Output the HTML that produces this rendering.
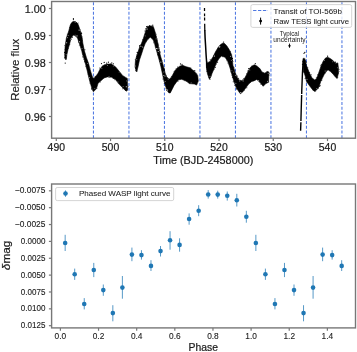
<!DOCTYPE html>
<html><head><meta charset="utf-8"><style>
html,body{margin:0;padding:0;background:#fff;}
body{width:357px;height:352px;overflow:hidden;font-family:"Liberation Sans", sans-serif;}
svg{display:block;}
#w{will-change:transform;}
text{-webkit-font-smoothing:antialiased;}
</style></head><body>
<div id="w"><svg width="357" height="352" viewBox="0 0 357 352" font-family='"Liberation Sans", sans-serif'>
<rect width="357" height="352" fill="#fff"/>
<line x1="93.45" y1="1.5" x2="93.45" y2="138.2" stroke="#4f78e2" stroke-width="1.05" stroke-dasharray="3.0 1.75" stroke-dashoffset="4.0"/>
<line x1="128.95" y1="1.5" x2="128.95" y2="138.2" stroke="#4f78e2" stroke-width="1.05" stroke-dasharray="3.0 1.75" stroke-dashoffset="4.0"/>
<line x1="164.45" y1="1.5" x2="164.45" y2="138.2" stroke="#4f78e2" stroke-width="1.05" stroke-dasharray="3.0 1.75" stroke-dashoffset="4.0"/>
<line x1="199.95" y1="1.5" x2="199.95" y2="138.2" stroke="#4f78e2" stroke-width="1.05" stroke-dasharray="3.0 1.75" stroke-dashoffset="4.0"/>
<line x1="235.45" y1="1.5" x2="235.45" y2="138.2" stroke="#4f78e2" stroke-width="1.05" stroke-dasharray="3.0 1.75" stroke-dashoffset="4.0"/>
<line x1="270.95" y1="1.5" x2="270.95" y2="138.2" stroke="#4f78e2" stroke-width="1.05" stroke-dasharray="3.0 1.75" stroke-dashoffset="4.0"/>
<line x1="306.45" y1="1.5" x2="306.45" y2="138.2" stroke="#4f78e2" stroke-width="1.05" stroke-dasharray="3.0 1.75" stroke-dashoffset="4.0"/>
<line x1="341.95" y1="1.5" x2="341.95" y2="138.2" stroke="#4f78e2" stroke-width="1.05" stroke-dasharray="3.0 1.75" stroke-dashoffset="4.0"/>
<polygon points="66.0,59.7 65.1,58.5 64.7,55.0 65.1,46.5 66.4,38.0 68.8,30.8 70.3,25.0 71.5,22.8 73.0,21.6 75.0,21.6 77.3,23.0 78.4,25.0 80.3,30.8 82.2,38.0 82.8,43.1 84.4,50.8 86.4,57.6 88.6,63.6 89.8,68.5 91.0,72.5 92.6,77.4 93.9,78.4 96.4,75.5 98.0,73.3 100.0,69.2 102.6,65.7 107.2,64.1 111.3,64.1 115.4,66.7 118.4,70.3 122.5,75.4 125.6,77.4 127.3,78.4 127.6,90.2 126.1,91.2 123.6,88.7 119.5,84.6 115.4,79.5 111.3,76.9 107.2,76.9 104.1,78.0 101.1,80.5 98.0,83.6 96.4,88.8 93.4,91.8 91.4,86.8 89.4,79.9 87.0,69.9 85.6,64.4 83.9,58.5 81.7,50.8 79.2,43.1 77.5,38.0 75.5,36.0 73.3,35.0 71.1,38.0 69.4,44.8 68.1,49.1 66.8,55.0 66.4,58.9" fill="#000" stroke="#000" stroke-width="0.6" stroke-linejoin="round"/>
<polygon points="136.5,71.8 135.0,66.9 135.5,59.9 137.0,54.9 140.0,46.0 141.4,43.6 143.1,39.3 144.4,35.0 146.1,29.9 146.9,27.4 149.5,25.7 153.3,26.5 154.2,29.1 155.5,33.3 156.7,38.5 158.0,43.6 158.5,47.1 160.2,54.8 161.9,60.8 163.6,66.7 165.2,73.2 166.6,77.0 168.0,78.4 169.4,79.1 171.2,77.5 173.6,73.2 175.0,70.4 177.3,68.1 179.7,66.2 182.5,65.3 186.2,66.7 190.0,67.8 194.9,72.0 197.7,75.5 198.3,81.1 196.6,85.1 194.3,84.0 189.1,83.6 187.2,81.7 184.4,80.3 181.6,79.3 178.7,79.8 176.4,82.2 174.1,85.4 172.2,89.2 170.3,92.9 168.9,92.9 167.5,91.1 165.6,86.4 163.7,79.8 162.3,73.2 160.9,66.7 159.4,60.8 157.7,54.8 156.0,48.8 155.5,47.8 154.6,43.6 152.9,39.3 150.3,37.2 147.8,39.3 145.2,43.6 143.5,47.8 141.9,52.9 139.5,59.9 138.0,66.9 137.0,70.8" fill="#000" stroke="#000" stroke-width="0.6" stroke-linejoin="round"/>
<polygon points="206.3,63.5 207.5,62.7 210.1,61.4 213.1,56.8 215.6,51.6 218.2,47.4 220.3,44.8 222.5,43.3 224.6,43.5 226.7,45.7 228.9,49.1 231.0,53.3 232.0,57.0 233.0,66.0 235.0,71.9 236.9,76.9 238.9,79.9 240.9,80.9 243.4,80.4 245.9,75.9 247.9,71.9 249.8,67.9 252.8,65.5 254.8,64.8 257.5,66.4 259.8,68.6 262.0,72.0 264.9,73.2 267.7,71.5 268.9,72.0 268.6,82.3 266.0,83.4 263.2,86.3 259.8,82.3 256.8,79.4 253.8,80.9 251.8,81.4 248.9,83.8 245.9,87.8 242.9,91.8 240.4,93.8 238.9,91.8 236.4,87.8 234.0,81.8 232.0,74.9 230.0,67.9 228.5,63.5 227.6,61.0 225.0,57.2 221.6,55.9 219.0,58.5 216.5,62.7 214.4,68.0 212.0,73.5 210.9,76.9 209.4,79.2 207.5,74.0 206.5,69.0" fill="#000" stroke="#000" stroke-width="0.6" stroke-linejoin="round"/>
<polygon points="302.9,61.6 303.5,58.2 305.2,59.4 306.5,65.5 309.5,73.2 311.8,77.5 314.1,80.0 316.4,78.9 318.6,73.2 320.9,66.4 323.2,61.2 325.5,58.0 327.6,57.3 330.1,58.4 332.7,60.3 335.9,63.5 337.8,62.9 338.4,68.0 338.4,73.1 337.2,78.5 335.9,77.6 333.3,74.4 330.8,71.8 328.2,69.9 326.9,70.5 324.3,74.3 320.9,81.1 319.3,85.9 317.5,89.1 314.7,91.4 313.0,90.2 309.5,85.7 306.6,81.5 305.2,76.0 304.2,73.0 303.4,72.0" fill="#000" stroke="#000" stroke-width="0.6" stroke-linejoin="round"/>
<g fill="#000"><circle cx="65.3" cy="59.6" r="0.37"/><circle cx="64.7" cy="58.1" r="0.36"/><circle cx="64.7" cy="57.3" r="0.53"/><circle cx="64.6" cy="52.4" r="0.53"/><circle cx="65.0" cy="49.5" r="0.40"/><circle cx="64.8" cy="45.6" r="0.47"/><circle cx="67.1" cy="34.1" r="0.38"/><circle cx="69.6" cy="27.4" r="0.40"/><circle cx="75.7" cy="21.5" r="0.36"/><circle cx="76.5" cy="22.6" r="0.38"/><circle cx="78.1" cy="23.0" r="0.49"/><circle cx="79.8" cy="29.5" r="0.56"/><circle cx="81.3" cy="32.3" r="0.47"/><circle cx="81.6" cy="33.4" r="0.57"/><circle cx="82.0" cy="36.8" r="0.41"/><circle cx="82.6" cy="40.8" r="0.39"/><circle cx="84.9" cy="49.7" r="0.53"/><circle cx="90.1" cy="68.1" r="0.40"/><circle cx="93.0" cy="77.3" r="0.37"/><circle cx="95.1" cy="76.2" r="0.50"/><circle cx="99.8" cy="68.1" r="0.52"/><circle cx="104.8" cy="64.4" r="0.44"/><circle cx="110.3" cy="63.7" r="0.40"/><circle cx="111.5" cy="64.1" r="0.42"/><circle cx="127.7" cy="80.2" r="0.35"/><circle cx="128.1" cy="86.6" r="0.49"/><circle cx="125.6" cy="90.6" r="0.38"/><circle cx="122.8" cy="88.7" r="0.51"/><circle cx="118.1" cy="82.9" r="0.41"/><circle cx="114.5" cy="79.8" r="0.39"/><circle cx="113.2" cy="78.5" r="0.53"/><circle cx="111.1" cy="77.3" r="0.38"/><circle cx="110.0" cy="77.5" r="0.46"/><circle cx="109.0" cy="77.6" r="0.46"/><circle cx="100.5" cy="82.0" r="0.41"/><circle cx="97.0" cy="88.6" r="0.45"/><circle cx="92.7" cy="90.1" r="0.40"/><circle cx="91.5" cy="88.9" r="0.57"/><circle cx="91.8" cy="87.9" r="0.43"/><circle cx="90.1" cy="83.0" r="0.56"/><circle cx="88.0" cy="74.1" r="0.46"/><circle cx="86.3" cy="66.9" r="0.47"/><circle cx="85.6" cy="66.3" r="0.35"/><circle cx="84.5" cy="61.8" r="0.50"/><circle cx="84.0" cy="59.5" r="0.44"/><circle cx="82.7" cy="57.1" r="0.42"/><circle cx="82.6" cy="56.2" r="0.41"/><circle cx="82.7" cy="54.7" r="0.44"/><circle cx="82.1" cy="53.1" r="0.40"/><circle cx="82.3" cy="52.8" r="0.44"/><circle cx="79.2" cy="45.6" r="0.40"/><circle cx="78.6" cy="42.0" r="0.55"/><circle cx="78.5" cy="40.8" r="0.36"/><circle cx="72.4" cy="37.3" r="0.51"/><circle cx="71.4" cy="39.4" r="0.40"/><circle cx="69.8" cy="44.2" r="0.49"/><circle cx="68.5" cy="48.3" r="0.38"/></g>
<g fill="#fff"><circle cx="66.7" cy="42.8" r="0.50"/><circle cx="67.6" cy="37.8" r="0.48"/><circle cx="68.2" cy="35.4" r="0.38"/><circle cx="75.1" cy="22.4" r="0.38"/><circle cx="79.1" cy="30.1" r="0.55"/><circle cx="87.6" cy="63.3" r="0.39"/><circle cx="101.9" cy="68.6" r="0.40"/><circle cx="107.3" cy="65.3" r="0.44"/><circle cx="113.2" cy="66.1" r="0.35"/><circle cx="119.1" cy="72.1" r="0.36"/><circle cx="126.8" cy="80.9" r="0.41"/><circle cx="126.3" cy="86.7" r="0.53"/><circle cx="123.1" cy="86.7" r="0.40"/><circle cx="118.0" cy="81.9" r="0.40"/><circle cx="109.0" cy="76.4" r="0.45"/><circle cx="94.9" cy="88.6" r="0.38"/><circle cx="89.4" cy="77.7" r="0.49"/><circle cx="82.0" cy="48.4" r="0.43"/><circle cx="79.6" cy="41.7" r="0.51"/><circle cx="77.0" cy="35.9" r="0.53"/><circle cx="75.1" cy="35.1" r="0.45"/><circle cx="70.3" cy="39.1" r="0.46"/><circle cx="66.1" cy="54.7" r="0.37"/></g>
<g fill="#000"><circle cx="135.7" cy="70.8" r="0.49"/><circle cx="135.9" cy="70.1" r="0.41"/><circle cx="135.6" cy="68.5" r="0.42"/><circle cx="135.1" cy="59.3" r="0.39"/><circle cx="136.5" cy="56.8" r="0.47"/><circle cx="136.5" cy="54.9" r="0.43"/><circle cx="137.4" cy="52.6" r="0.53"/><circle cx="137.1" cy="52.2" r="0.56"/><circle cx="139.4" cy="46.8" r="0.46"/><circle cx="139.6" cy="45.6" r="0.55"/><circle cx="142.4" cy="39.7" r="0.46"/><circle cx="145.0" cy="31.0" r="0.57"/><circle cx="145.3" cy="29.9" r="0.46"/><circle cx="145.9" cy="28.6" r="0.55"/><circle cx="147.8" cy="26.4" r="0.55"/><circle cx="149.6" cy="25.7" r="0.56"/><circle cx="152.0" cy="25.6" r="0.38"/><circle cx="156.3" cy="34.1" r="0.41"/><circle cx="156.1" cy="36.3" r="0.38"/><circle cx="157.2" cy="38.5" r="0.35"/><circle cx="157.6" cy="40.1" r="0.48"/><circle cx="158.0" cy="43.5" r="0.37"/><circle cx="158.7" cy="45.0" r="0.47"/><circle cx="159.4" cy="47.8" r="0.36"/><circle cx="158.8" cy="48.7" r="0.52"/><circle cx="159.5" cy="49.4" r="0.46"/><circle cx="159.6" cy="51.3" r="0.42"/><circle cx="160.3" cy="52.1" r="0.51"/><circle cx="159.9" cy="53.8" r="0.42"/><circle cx="162.0" cy="60.6" r="0.40"/><circle cx="164.4" cy="68.0" r="0.37"/><circle cx="164.2" cy="69.0" r="0.55"/><circle cx="164.4" cy="70.1" r="0.50"/><circle cx="166.2" cy="75.6" r="0.37"/><circle cx="167.0" cy="77.4" r="0.52"/><circle cx="171.3" cy="76.7" r="0.45"/><circle cx="173.6" cy="73.4" r="0.39"/><circle cx="174.0" cy="71.7" r="0.46"/><circle cx="176.1" cy="68.5" r="0.46"/><circle cx="177.7" cy="67.0" r="0.50"/><circle cx="182.3" cy="65.3" r="0.41"/><circle cx="190.8" cy="68.0" r="0.54"/><circle cx="192.8" cy="70.2" r="0.40"/><circle cx="193.6" cy="70.6" r="0.39"/><circle cx="195.1" cy="71.2" r="0.37"/><circle cx="196.3" cy="73.0" r="0.37"/><circle cx="196.8" cy="73.9" r="0.52"/><circle cx="184.2" cy="80.8" r="0.44"/><circle cx="178.0" cy="81.5" r="0.44"/><circle cx="166.5" cy="90.4" r="0.49"/><circle cx="165.9" cy="88.8" r="0.43"/><circle cx="164.2" cy="83.4" r="0.47"/><circle cx="164.2" cy="81.7" r="0.46"/><circle cx="162.9" cy="79.0" r="0.45"/><circle cx="159.4" cy="61.4" r="0.35"/><circle cx="157.7" cy="54.7" r="0.52"/><circle cx="154.0" cy="43.3" r="0.40"/><circle cx="153.7" cy="42.7" r="0.38"/><circle cx="152.3" cy="38.7" r="0.52"/><circle cx="148.1" cy="38.9" r="0.49"/><circle cx="137.0" cy="71.0" r="0.50"/></g>
<g fill="#fff"><circle cx="135.6" cy="66.0" r="0.43"/><circle cx="136.8" cy="59.8" r="0.43"/><circle cx="140.9" cy="46.3" r="0.50"/><circle cx="145.2" cy="35.9" r="0.37"/><circle cx="147.2" cy="29.0" r="0.50"/><circle cx="156.0" cy="38.9" r="0.37"/><circle cx="157.9" cy="48.8" r="0.54"/><circle cx="158.2" cy="51.6" r="0.51"/><circle cx="163.9" cy="72.0" r="0.42"/><circle cx="165.0" cy="76.1" r="0.51"/><circle cx="168.1" cy="79.3" r="0.41"/><circle cx="191.1" cy="82.8" r="0.38"/><circle cx="167.6" cy="90.0" r="0.54"/><circle cx="165.1" cy="81.5" r="0.38"/><circle cx="163.8" cy="75.6" r="0.49"/><circle cx="160.9" cy="62.1" r="0.53"/><circle cx="156.5" cy="48.5" r="0.51"/><circle cx="142.5" cy="46.9" r="0.49"/></g>
<g fill="#000"><circle cx="207.3" cy="61.9" r="0.43"/><circle cx="210.2" cy="59.8" r="0.54"/><circle cx="213.6" cy="55.7" r="0.37"/><circle cx="217.6" cy="48.1" r="0.43"/><circle cx="223.5" cy="43.3" r="0.38"/><circle cx="230.6" cy="51.2" r="0.47"/><circle cx="231.8" cy="54.9" r="0.42"/><circle cx="232.4" cy="58.4" r="0.57"/><circle cx="232.5" cy="60.3" r="0.55"/><circle cx="233.1" cy="61.4" r="0.42"/><circle cx="233.1" cy="66.2" r="0.48"/><circle cx="233.9" cy="67.4" r="0.51"/><circle cx="234.0" cy="69.1" r="0.51"/><circle cx="235.1" cy="70.2" r="0.42"/><circle cx="237.2" cy="76.1" r="0.53"/><circle cx="238.6" cy="78.3" r="0.56"/><circle cx="240.1" cy="80.4" r="0.53"/><circle cx="241.1" cy="80.4" r="0.48"/><circle cx="242.9" cy="79.8" r="0.51"/><circle cx="243.9" cy="78.6" r="0.54"/><circle cx="246.9" cy="73.5" r="0.45"/><circle cx="248.0" cy="70.9" r="0.56"/><circle cx="248.6" cy="68.5" r="0.52"/><circle cx="251.4" cy="66.0" r="0.41"/><circle cx="259.9" cy="68.8" r="0.41"/><circle cx="260.7" cy="70.1" r="0.47"/><circle cx="265.3" cy="72.9" r="0.46"/><circle cx="267.0" cy="71.7" r="0.54"/><circle cx="269.5" cy="73.3" r="0.45"/><circle cx="268.9" cy="75.1" r="0.56"/><circle cx="260.9" cy="84.3" r="0.48"/><circle cx="246.8" cy="87.7" r="0.50"/><circle cx="244.1" cy="90.3" r="0.49"/><circle cx="236.6" cy="88.9" r="0.53"/><circle cx="236.1" cy="86.8" r="0.52"/><circle cx="234.6" cy="85.3" r="0.48"/><circle cx="233.2" cy="81.7" r="0.54"/><circle cx="232.4" cy="77.3" r="0.51"/><circle cx="232.0" cy="75.2" r="0.43"/><circle cx="231.2" cy="72.1" r="0.53"/><circle cx="230.8" cy="71.2" r="0.40"/><circle cx="227.8" cy="63.1" r="0.41"/><circle cx="226.6" cy="60.8" r="0.38"/><circle cx="223.0" cy="56.9" r="0.43"/><circle cx="222.3" cy="56.4" r="0.40"/><circle cx="219.2" cy="58.5" r="0.36"/><circle cx="217.6" cy="62.2" r="0.51"/><circle cx="216.5" cy="62.8" r="0.39"/><circle cx="216.1" cy="64.2" r="0.49"/><circle cx="215.3" cy="67.5" r="0.52"/><circle cx="213.9" cy="69.2" r="0.52"/><circle cx="210.0" cy="79.2" r="0.53"/><circle cx="208.9" cy="77.6" r="0.43"/><circle cx="206.6" cy="71.7" r="0.42"/></g>
<g fill="#fff"><circle cx="214.5" cy="56.1" r="0.52"/><circle cx="219.7" cy="47.3" r="0.49"/><circle cx="219.8" cy="46.4" r="0.50"/><circle cx="230.5" cy="56.2" r="0.48"/><circle cx="231.3" cy="60.4" r="0.41"/><circle cx="233.8" cy="72.1" r="0.45"/><circle cx="235.3" cy="75.2" r="0.44"/><circle cx="239.8" cy="81.0" r="0.49"/><circle cx="243.1" cy="81.1" r="0.45"/><circle cx="249.8" cy="69.9" r="0.45"/><circle cx="268.1" cy="73.3" r="0.44"/><circle cx="267.5" cy="81.3" r="0.47"/><circle cx="258.7" cy="80.5" r="0.46"/><circle cx="240.8" cy="92.5" r="0.52"/><circle cx="235.9" cy="83.2" r="0.47"/><circle cx="231.9" cy="70.8" r="0.42"/><circle cx="210.0" cy="76.2" r="0.44"/></g>
<g fill="#000"><circle cx="303.0" cy="61.4" r="0.57"/><circle cx="303.1" cy="58.6" r="0.45"/><circle cx="304.8" cy="58.3" r="0.49"/><circle cx="305.5" cy="60.9" r="0.52"/><circle cx="306.3" cy="62.1" r="0.54"/><circle cx="307.8" cy="67.8" r="0.49"/><circle cx="309.6" cy="72.7" r="0.56"/><circle cx="311.1" cy="74.7" r="0.54"/><circle cx="313.4" cy="79.0" r="0.45"/><circle cx="313.6" cy="79.5" r="0.42"/><circle cx="316.3" cy="77.8" r="0.48"/><circle cx="318.0" cy="74.4" r="0.50"/><circle cx="320.8" cy="65.7" r="0.48"/><circle cx="321.3" cy="64.8" r="0.54"/><circle cx="337.0" cy="63.2" r="0.37"/><circle cx="339.0" cy="69.3" r="0.50"/><circle cx="339.1" cy="71.2" r="0.44"/><circle cx="338.6" cy="72.6" r="0.40"/><circle cx="338.3" cy="73.7" r="0.43"/><circle cx="337.9" cy="77.6" r="0.41"/><circle cx="326.3" cy="71.8" r="0.38"/><circle cx="325.0" cy="73.6" r="0.42"/><circle cx="321.8" cy="80.0" r="0.55"/><circle cx="321.4" cy="80.3" r="0.41"/><circle cx="320.1" cy="85.6" r="0.54"/><circle cx="319.6" cy="86.2" r="0.54"/><circle cx="318.3" cy="88.0" r="0.51"/><circle cx="315.7" cy="91.6" r="0.47"/><circle cx="312.7" cy="89.9" r="0.38"/><circle cx="307.0" cy="82.6" r="0.49"/><circle cx="306.2" cy="79.5" r="0.38"/><circle cx="305.2" cy="78.2" r="0.55"/><circle cx="302.9" cy="71.2" r="0.44"/><circle cx="303.1" cy="66.9" r="0.52"/><circle cx="302.4" cy="64.4" r="0.54"/></g>
<g fill="#fff"><circle cx="324.6" cy="60.4" r="0.42"/><circle cx="332.8" cy="61.8" r="0.37"/><circle cx="337.6" cy="67.8" r="0.38"/><circle cx="325.1" cy="71.0" r="0.44"/><circle cx="316.8" cy="88.4" r="0.42"/><circle cx="307.0" cy="79.3" r="0.46"/></g>
<polyline points="204.5,8 204.6,20 204.8,30.5" fill="none" stroke="#000" stroke-width="1.25" stroke-dasharray="3 2.6 2.6 1.2 3 3.4 100"/>
<polyline points="204.8,30 205.1,38 205.6,46 206.1,55 206.6,62 207,68" fill="none" stroke="#000" stroke-width="1.5"/>
<polyline points="300.6,130.7 300.9,122 301.2,110 301.5,100 301.8,90 302.1,82 302.5,72 303.0,64 303.5,59" fill="none" stroke="#000" stroke-width="1.4" stroke-dasharray="8.5 1.2 26 1 100"/>
<circle cx="73.4" cy="18.5" r="0.6" fill="#000"/>
<circle cx="73.4" cy="19.6" r="0.6" fill="#000"/>
<circle cx="65.2" cy="63.1" r="0.6" fill="#000"/>
<circle cx="101.5" cy="63.6" r="0.6" fill="#000"/>
<circle cx="104.2" cy="62.4" r="0.6" fill="#000"/>
<circle cx="106.6" cy="63.1" r="0.6" fill="#000"/>
<circle cx="108.4" cy="62.2" r="0.6" fill="#000"/>
<circle cx="111.8" cy="62.9" r="0.6" fill="#000"/>
<circle cx="113.4" cy="63.8" r="0.6" fill="#000"/>
<circle cx="304.0" cy="53.3" r="0.6" fill="#000"/>
<circle cx="304.8" cy="52.4" r="0.6" fill="#000"/>
<circle cx="327.6" cy="56.2" r="0.6" fill="#000"/>
<circle cx="182" cy="64.3" r="0.6" fill="#000"/>
<circle cx="180.5" cy="63.9" r="0.6" fill="#000"/>
<circle cx="152.8" cy="25.2" r="0.6" fill="#000"/>
<circle cx="146.6" cy="26.6" r="0.6" fill="#000"/>
<circle cx="255.3" cy="63.6" r="0.6" fill="#000"/>
<circle cx="223.6" cy="42.1" r="0.6" fill="#000"/>
<circle cx="194.7" cy="70.6" r="0.6" fill="#000"/>
<circle cx="335.5" cy="62.2" r="0.6" fill="#000"/>
<rect x="250.9" y="4.6" width="100.8" height="22.8" rx="1.8" fill="#fff" fill-opacity="0.8" stroke="#d0d0d0" stroke-width="0.9"/>
<line x1="253.1" y1="10.5" x2="268" y2="10.5" stroke="#4f78e2" stroke-width="1.1" stroke-dasharray="3.3 1.6"/>
<line x1="260.6" y1="17.6" x2="260.6" y2="24.6" stroke="#000" stroke-width="1"/>
<circle cx="260.6" cy="21.1" r="1.45" fill="#000"/>
<text x="273.6" y="13.8" font-size="7.4" text-anchor="start" fill="#1a1a1a" stroke="#1a1a1a" stroke-width="0.05" textLength="68.3" lengthAdjust="spacingAndGlyphs">Transit of TOI-569b</text>
<text x="273.6" y="24.1" font-size="7.4" text-anchor="start" fill="#1a1a1a" stroke="#1a1a1a" stroke-width="0.05" textLength="75.4" lengthAdjust="spacingAndGlyphs">Raw TESS light curve</text>
<text x="289.5" y="36.3" font-size="6.9" text-anchor="middle" fill="#1a1a1a" stroke="#1a1a1a" stroke-width="0" textLength="19.4" lengthAdjust="spacingAndGlyphs">Typical</text>
<text x="289.5" y="42.2" font-size="6.9" text-anchor="middle" fill="#1a1a1a" stroke="#1a1a1a" stroke-width="0" textLength="32.3" lengthAdjust="spacingAndGlyphs">uncertainty</text>
<line x1="289.5" y1="43.6" x2="289.5" y2="47.8" stroke="#000" stroke-width="0.9"/>
<circle cx="289.5" cy="45.8" r="1.15" fill="#000"/>
<rect x="51.6" y="1.5" width="303.9" height="136.7" fill="none" stroke="#777777" stroke-width="1.4"/>
<line x1="48.9" y1="8.50" x2="51.6" y2="8.50" stroke="#777777" stroke-width="1.2"/>
<text x="45.8" y="12.5" font-size="10.5" text-anchor="end" fill="#1a1a1a" stroke="#1a1a1a" stroke-width="0.2" textLength="21.0" lengthAdjust="spacingAndGlyphs">1.00</text>
<line x1="48.9" y1="35.50" x2="51.6" y2="35.50" stroke="#777777" stroke-width="1.2"/>
<text x="45.8" y="39.5" font-size="10.5" text-anchor="end" fill="#1a1a1a" stroke="#1a1a1a" stroke-width="0.2" textLength="21.0" lengthAdjust="spacingAndGlyphs">0.99</text>
<line x1="48.9" y1="62.50" x2="51.6" y2="62.50" stroke="#777777" stroke-width="1.2"/>
<text x="45.8" y="66.5" font-size="10.5" text-anchor="end" fill="#1a1a1a" stroke="#1a1a1a" stroke-width="0.2" textLength="21.0" lengthAdjust="spacingAndGlyphs">0.98</text>
<line x1="48.9" y1="89.50" x2="51.6" y2="89.50" stroke="#777777" stroke-width="1.2"/>
<text x="45.8" y="93.5" font-size="10.5" text-anchor="end" fill="#1a1a1a" stroke="#1a1a1a" stroke-width="0.2" textLength="21.0" lengthAdjust="spacingAndGlyphs">0.97</text>
<line x1="48.9" y1="116.50" x2="51.6" y2="116.50" stroke="#777777" stroke-width="1.2"/>
<text x="45.8" y="120.5" font-size="10.5" text-anchor="end" fill="#1a1a1a" stroke="#1a1a1a" stroke-width="0.2" textLength="21.0" lengthAdjust="spacingAndGlyphs">0.96</text>
<line x1="56.30" y1="138.2" x2="56.30" y2="141.1" stroke="#777777" stroke-width="1.2"/>
<text x="56.3" y="151.1" font-size="10.5" text-anchor="middle" fill="#1a1a1a" stroke="#1a1a1a" stroke-width="0.2" textLength="17.4" lengthAdjust="spacingAndGlyphs">490</text>
<line x1="110.54" y1="138.2" x2="110.54" y2="141.1" stroke="#777777" stroke-width="1.2"/>
<text x="110.54" y="151.1" font-size="10.5" text-anchor="middle" fill="#1a1a1a" stroke="#1a1a1a" stroke-width="0.2" textLength="17.4" lengthAdjust="spacingAndGlyphs">500</text>
<line x1="164.78" y1="138.2" x2="164.78" y2="141.1" stroke="#777777" stroke-width="1.2"/>
<text x="164.78" y="151.1" font-size="10.5" text-anchor="middle" fill="#1a1a1a" stroke="#1a1a1a" stroke-width="0.2" textLength="17.4" lengthAdjust="spacingAndGlyphs">510</text>
<line x1="219.02" y1="138.2" x2="219.02" y2="141.1" stroke="#777777" stroke-width="1.2"/>
<text x="219.02" y="151.1" font-size="10.5" text-anchor="middle" fill="#1a1a1a" stroke="#1a1a1a" stroke-width="0.2" textLength="17.4" lengthAdjust="spacingAndGlyphs">520</text>
<line x1="273.26" y1="138.2" x2="273.26" y2="141.1" stroke="#777777" stroke-width="1.2"/>
<text x="273.26" y="151.1" font-size="10.5" text-anchor="middle" fill="#1a1a1a" stroke="#1a1a1a" stroke-width="0.2" textLength="17.4" lengthAdjust="spacingAndGlyphs">530</text>
<line x1="327.50" y1="138.2" x2="327.50" y2="141.1" stroke="#777777" stroke-width="1.2"/>
<text x="327.5" y="151.1" font-size="10.5" text-anchor="middle" fill="#1a1a1a" stroke="#1a1a1a" stroke-width="0.2" textLength="17.4" lengthAdjust="spacingAndGlyphs">540</text>
<text x="203.3" y="164.3" font-size="10.5" text-anchor="middle" fill="#1a1a1a" stroke="#1a1a1a" stroke-width="0.2" textLength="100.0" lengthAdjust="spacingAndGlyphs">Time (BJD-2458000)</text>
<text transform="translate(19.4,69.8) rotate(-90)" font-size="10.5" text-anchor="middle" fill="#1a1a1a" stroke="#1a1a1a" stroke-width="0.15" textLength="62" lengthAdjust="spacingAndGlyphs">Relative flux</text>
<line x1="65.17" y1="234.8" x2="65.17" y2="251.0" stroke="#1f77b4" stroke-width="1" stroke-opacity="0.75"/>
<circle cx="65.17" cy="243.0" r="2.3" fill="#1f77b4"/>
<line x1="74.70" y1="268.6" x2="74.70" y2="279.9" stroke="#1f77b4" stroke-width="1" stroke-opacity="0.75"/>
<circle cx="74.70" cy="274.3" r="2.3" fill="#1f77b4"/>
<line x1="84.24" y1="298.1" x2="84.24" y2="309.4" stroke="#1f77b4" stroke-width="1" stroke-opacity="0.75"/>
<circle cx="84.24" cy="304.0" r="2.3" fill="#1f77b4"/>
<line x1="93.77" y1="262.9" x2="93.77" y2="277.1" stroke="#1f77b4" stroke-width="1" stroke-opacity="0.75"/>
<circle cx="93.77" cy="270.0" r="2.3" fill="#1f77b4"/>
<line x1="103.31" y1="284.5" x2="103.31" y2="295.8" stroke="#1f77b4" stroke-width="1" stroke-opacity="0.75"/>
<circle cx="103.31" cy="290.1" r="2.3" fill="#1f77b4"/>
<line x1="112.84" y1="305.2" x2="112.84" y2="321.3" stroke="#1f77b4" stroke-width="1" stroke-opacity="0.75"/>
<circle cx="112.84" cy="313.1" r="2.3" fill="#1f77b4"/>
<line x1="122.38" y1="276.0" x2="122.38" y2="298.7" stroke="#1f77b4" stroke-width="1" stroke-opacity="0.75"/>
<circle cx="122.38" cy="287.6" r="2.3" fill="#1f77b4"/>
<line x1="131.91" y1="247.6" x2="131.91" y2="261.2" stroke="#1f77b4" stroke-width="1" stroke-opacity="0.75"/>
<circle cx="131.91" cy="254.6" r="2.3" fill="#1f77b4"/>
<line x1="141.45" y1="250.2" x2="141.45" y2="259.6" stroke="#1f77b4" stroke-width="1" stroke-opacity="0.75"/>
<circle cx="141.45" cy="255.1" r="2.3" fill="#1f77b4"/>
<line x1="150.98" y1="260.2" x2="150.98" y2="271.0" stroke="#1f77b4" stroke-width="1" stroke-opacity="0.75"/>
<circle cx="150.98" cy="265.9" r="2.3" fill="#1f77b4"/>
<line x1="160.52" y1="246.0" x2="160.52" y2="256.5" stroke="#1f77b4" stroke-width="1" stroke-opacity="0.75"/>
<circle cx="160.52" cy="251.1" r="2.3" fill="#1f77b4"/>
<line x1="170.05" y1="231.2" x2="170.05" y2="249.7" stroke="#1f77b4" stroke-width="1" stroke-opacity="0.75"/>
<circle cx="170.05" cy="240.3" r="2.3" fill="#1f77b4"/>
<line x1="179.59" y1="238.3" x2="179.59" y2="251.7" stroke="#1f77b4" stroke-width="1" stroke-opacity="0.75"/>
<circle cx="179.59" cy="244.9" r="2.3" fill="#1f77b4"/>
<line x1="189.12" y1="213.4" x2="189.12" y2="224.7" stroke="#1f77b4" stroke-width="1" stroke-opacity="0.75"/>
<circle cx="189.12" cy="219.0" r="2.3" fill="#1f77b4"/>
<line x1="198.66" y1="205.2" x2="198.66" y2="216.2" stroke="#1f77b4" stroke-width="1" stroke-opacity="0.75"/>
<circle cx="198.66" cy="210.8" r="2.3" fill="#1f77b4"/>
<line x1="208.19" y1="190.1" x2="208.19" y2="198.6" stroke="#1f77b4" stroke-width="1" stroke-opacity="0.75"/>
<circle cx="208.19" cy="194.5" r="2.3" fill="#1f77b4"/>
<line x1="217.73" y1="190.7" x2="217.73" y2="198.6" stroke="#1f77b4" stroke-width="1" stroke-opacity="0.75"/>
<circle cx="217.73" cy="194.6" r="2.3" fill="#1f77b4"/>
<line x1="227.26" y1="191.5" x2="227.26" y2="200.6" stroke="#1f77b4" stroke-width="1" stroke-opacity="0.75"/>
<circle cx="227.26" cy="195.8" r="2.3" fill="#1f77b4"/>
<line x1="236.80" y1="193.8" x2="236.80" y2="206.5" stroke="#1f77b4" stroke-width="1" stroke-opacity="0.75"/>
<circle cx="236.80" cy="200.3" r="2.3" fill="#1f77b4"/>
<line x1="246.33" y1="210.8" x2="246.33" y2="222.7" stroke="#1f77b4" stroke-width="1" stroke-opacity="0.75"/>
<circle cx="246.33" cy="216.8" r="2.3" fill="#1f77b4"/>
<line x1="255.87" y1="234.8" x2="255.87" y2="251.0" stroke="#1f77b4" stroke-width="1" stroke-opacity="0.75"/>
<circle cx="255.87" cy="243.0" r="2.3" fill="#1f77b4"/>
<line x1="265.40" y1="268.6" x2="265.40" y2="279.9" stroke="#1f77b4" stroke-width="1" stroke-opacity="0.75"/>
<circle cx="265.40" cy="274.3" r="2.3" fill="#1f77b4"/>
<line x1="274.94" y1="298.1" x2="274.94" y2="309.4" stroke="#1f77b4" stroke-width="1" stroke-opacity="0.75"/>
<circle cx="274.94" cy="304.0" r="2.3" fill="#1f77b4"/>
<line x1="284.47" y1="262.9" x2="284.47" y2="277.1" stroke="#1f77b4" stroke-width="1" stroke-opacity="0.75"/>
<circle cx="284.47" cy="270.0" r="2.3" fill="#1f77b4"/>
<line x1="294.01" y1="284.5" x2="294.01" y2="295.8" stroke="#1f77b4" stroke-width="1" stroke-opacity="0.75"/>
<circle cx="294.01" cy="290.1" r="2.3" fill="#1f77b4"/>
<line x1="303.54" y1="305.2" x2="303.54" y2="321.3" stroke="#1f77b4" stroke-width="1" stroke-opacity="0.75"/>
<circle cx="303.54" cy="313.1" r="2.3" fill="#1f77b4"/>
<line x1="313.08" y1="276.0" x2="313.08" y2="298.7" stroke="#1f77b4" stroke-width="1" stroke-opacity="0.75"/>
<circle cx="313.08" cy="287.6" r="2.3" fill="#1f77b4"/>
<line x1="322.61" y1="247.6" x2="322.61" y2="261.2" stroke="#1f77b4" stroke-width="1" stroke-opacity="0.75"/>
<circle cx="322.61" cy="254.6" r="2.3" fill="#1f77b4"/>
<line x1="332.15" y1="250.2" x2="332.15" y2="259.6" stroke="#1f77b4" stroke-width="1" stroke-opacity="0.75"/>
<circle cx="332.15" cy="255.1" r="2.3" fill="#1f77b4"/>
<line x1="341.68" y1="260.2" x2="341.68" y2="271.0" stroke="#1f77b4" stroke-width="1" stroke-opacity="0.75"/>
<circle cx="341.68" cy="265.9" r="2.3" fill="#1f77b4"/>
<rect x="55.6" y="187.5" width="118.1" height="13.1" rx="1.6" fill="#fff" fill-opacity="0.8" stroke="#d0d0d0" stroke-width="0.9"/>
<line x1="65.5" y1="190.4" x2="65.5" y2="196.8" stroke="#1f77b4" stroke-width="1" stroke-opacity="0.75"/>
<circle cx="65.5" cy="193.5" r="2.3" fill="#1f77b4"/>
<text x="78.9" y="196.3" font-size="7.4" text-anchor="start" fill="#1a1a1a" stroke="#1a1a1a" stroke-width="0.05" textLength="91.5" lengthAdjust="spacingAndGlyphs">Phased WASP light curve</text>
<rect x="51.6" y="184.0" width="303.9" height="143.89999999999998" fill="none" stroke="#777777" stroke-width="1.4"/>
<line x1="48.9" y1="190.82" x2="51.6" y2="190.82" stroke="#777777" stroke-width="1.2"/>
<text x="45.4" y="193" font-size="8.6" text-anchor="end" fill="#1a1a1a" stroke="#1a1a1a" stroke-width="0.1" textLength="30.6" lengthAdjust="spacingAndGlyphs">−0.0075</text>
<line x1="48.9" y1="207.68" x2="51.6" y2="207.68" stroke="#777777" stroke-width="1.2"/>
<text x="45.4" y="210" font-size="8.6" text-anchor="end" fill="#1a1a1a" stroke="#1a1a1a" stroke-width="0.1" textLength="30.6" lengthAdjust="spacingAndGlyphs">−0.0050</text>
<line x1="48.9" y1="224.54" x2="51.6" y2="224.54" stroke="#777777" stroke-width="1.2"/>
<text x="45.4" y="227" font-size="8.6" text-anchor="end" fill="#1a1a1a" stroke="#1a1a1a" stroke-width="0.1" textLength="30.6" lengthAdjust="spacingAndGlyphs">−0.0025</text>
<line x1="48.9" y1="241.40" x2="51.6" y2="241.40" stroke="#777777" stroke-width="1.2"/>
<text x="45.4" y="244" font-size="8.6" text-anchor="end" fill="#1a1a1a" stroke="#1a1a1a" stroke-width="0.1" textLength="24.6" lengthAdjust="spacingAndGlyphs">0.0000</text>
<line x1="48.9" y1="258.26" x2="51.6" y2="258.26" stroke="#777777" stroke-width="1.2"/>
<text x="45.4" y="261" font-size="8.6" text-anchor="end" fill="#1a1a1a" stroke="#1a1a1a" stroke-width="0.1" textLength="24.6" lengthAdjust="spacingAndGlyphs">0.0025</text>
<line x1="48.9" y1="275.12" x2="51.6" y2="275.12" stroke="#777777" stroke-width="1.2"/>
<text x="45.4" y="278" font-size="8.6" text-anchor="end" fill="#1a1a1a" stroke="#1a1a1a" stroke-width="0.1" textLength="24.6" lengthAdjust="spacingAndGlyphs">0.0050</text>
<line x1="48.9" y1="291.98" x2="51.6" y2="291.98" stroke="#777777" stroke-width="1.2"/>
<text x="45.4" y="295" font-size="8.6" text-anchor="end" fill="#1a1a1a" stroke="#1a1a1a" stroke-width="0.1" textLength="24.6" lengthAdjust="spacingAndGlyphs">0.0075</text>
<line x1="48.9" y1="308.84" x2="51.6" y2="308.84" stroke="#777777" stroke-width="1.2"/>
<text x="45.4" y="311" font-size="8.6" text-anchor="end" fill="#1a1a1a" stroke="#1a1a1a" stroke-width="0.1" textLength="24.6" lengthAdjust="spacingAndGlyphs">0.0100</text>
<line x1="48.9" y1="325.70" x2="51.6" y2="325.70" stroke="#777777" stroke-width="1.2"/>
<text x="45.4" y="328" font-size="8.6" text-anchor="end" fill="#1a1a1a" stroke="#1a1a1a" stroke-width="0.1" textLength="24.6" lengthAdjust="spacingAndGlyphs">0.0125</text>
<line x1="60.40" y1="327.9" x2="60.40" y2="330.79999999999995" stroke="#777777" stroke-width="1.2"/>
<text x="60.4" y="339" font-size="8.6" text-anchor="middle" fill="#1a1a1a" stroke="#1a1a1a" stroke-width="0.1" textLength="11.6" lengthAdjust="spacingAndGlyphs">0.0</text>
<line x1="98.54" y1="327.9" x2="98.54" y2="330.79999999999995" stroke="#777777" stroke-width="1.2"/>
<text x="98.54" y="339" font-size="8.6" text-anchor="middle" fill="#1a1a1a" stroke="#1a1a1a" stroke-width="0.1" textLength="11.6" lengthAdjust="spacingAndGlyphs">0.2</text>
<line x1="136.68" y1="327.9" x2="136.68" y2="330.79999999999995" stroke="#777777" stroke-width="1.2"/>
<text x="136.68" y="339" font-size="8.6" text-anchor="middle" fill="#1a1a1a" stroke="#1a1a1a" stroke-width="0.1" textLength="11.6" lengthAdjust="spacingAndGlyphs">0.4</text>
<line x1="174.82" y1="327.9" x2="174.82" y2="330.79999999999995" stroke="#777777" stroke-width="1.2"/>
<text x="174.82" y="339" font-size="8.6" text-anchor="middle" fill="#1a1a1a" stroke="#1a1a1a" stroke-width="0.1" textLength="11.6" lengthAdjust="spacingAndGlyphs">0.6</text>
<line x1="212.96" y1="327.9" x2="212.96" y2="330.79999999999995" stroke="#777777" stroke-width="1.2"/>
<text x="212.96" y="339" font-size="8.6" text-anchor="middle" fill="#1a1a1a" stroke="#1a1a1a" stroke-width="0.1" textLength="11.6" lengthAdjust="spacingAndGlyphs">0.8</text>
<line x1="251.10" y1="327.9" x2="251.10" y2="330.79999999999995" stroke="#777777" stroke-width="1.2"/>
<text x="251.1" y="339" font-size="8.6" text-anchor="middle" fill="#1a1a1a" stroke="#1a1a1a" stroke-width="0.1" textLength="11.6" lengthAdjust="spacingAndGlyphs">1.0</text>
<line x1="289.24" y1="327.9" x2="289.24" y2="330.79999999999995" stroke="#777777" stroke-width="1.2"/>
<text x="289.24" y="339" font-size="8.6" text-anchor="middle" fill="#1a1a1a" stroke="#1a1a1a" stroke-width="0.1" textLength="11.6" lengthAdjust="spacingAndGlyphs">1.2</text>
<line x1="327.38" y1="327.9" x2="327.38" y2="330.79999999999995" stroke="#777777" stroke-width="1.2"/>
<text x="327.38" y="339" font-size="8.6" text-anchor="middle" fill="#1a1a1a" stroke="#1a1a1a" stroke-width="0.1" textLength="11.6" lengthAdjust="spacingAndGlyphs">1.4</text>
<text x="203.3" y="350.6" font-size="10.3" text-anchor="middle" fill="#1a1a1a" stroke="#1a1a1a" stroke-width="0.2" textLength="29.4" lengthAdjust="spacingAndGlyphs">Phase</text>
<text transform="translate(9.6,255.4) rotate(-90)" font-size="10.3" text-anchor="middle" fill="#1a1a1a" stroke="#1a1a1a" stroke-width="0.2" textLength="29.5" lengthAdjust="spacingAndGlyphs"><tspan font-style="italic">δ</tspan>mag</text>
</svg></div>
</body></html>
